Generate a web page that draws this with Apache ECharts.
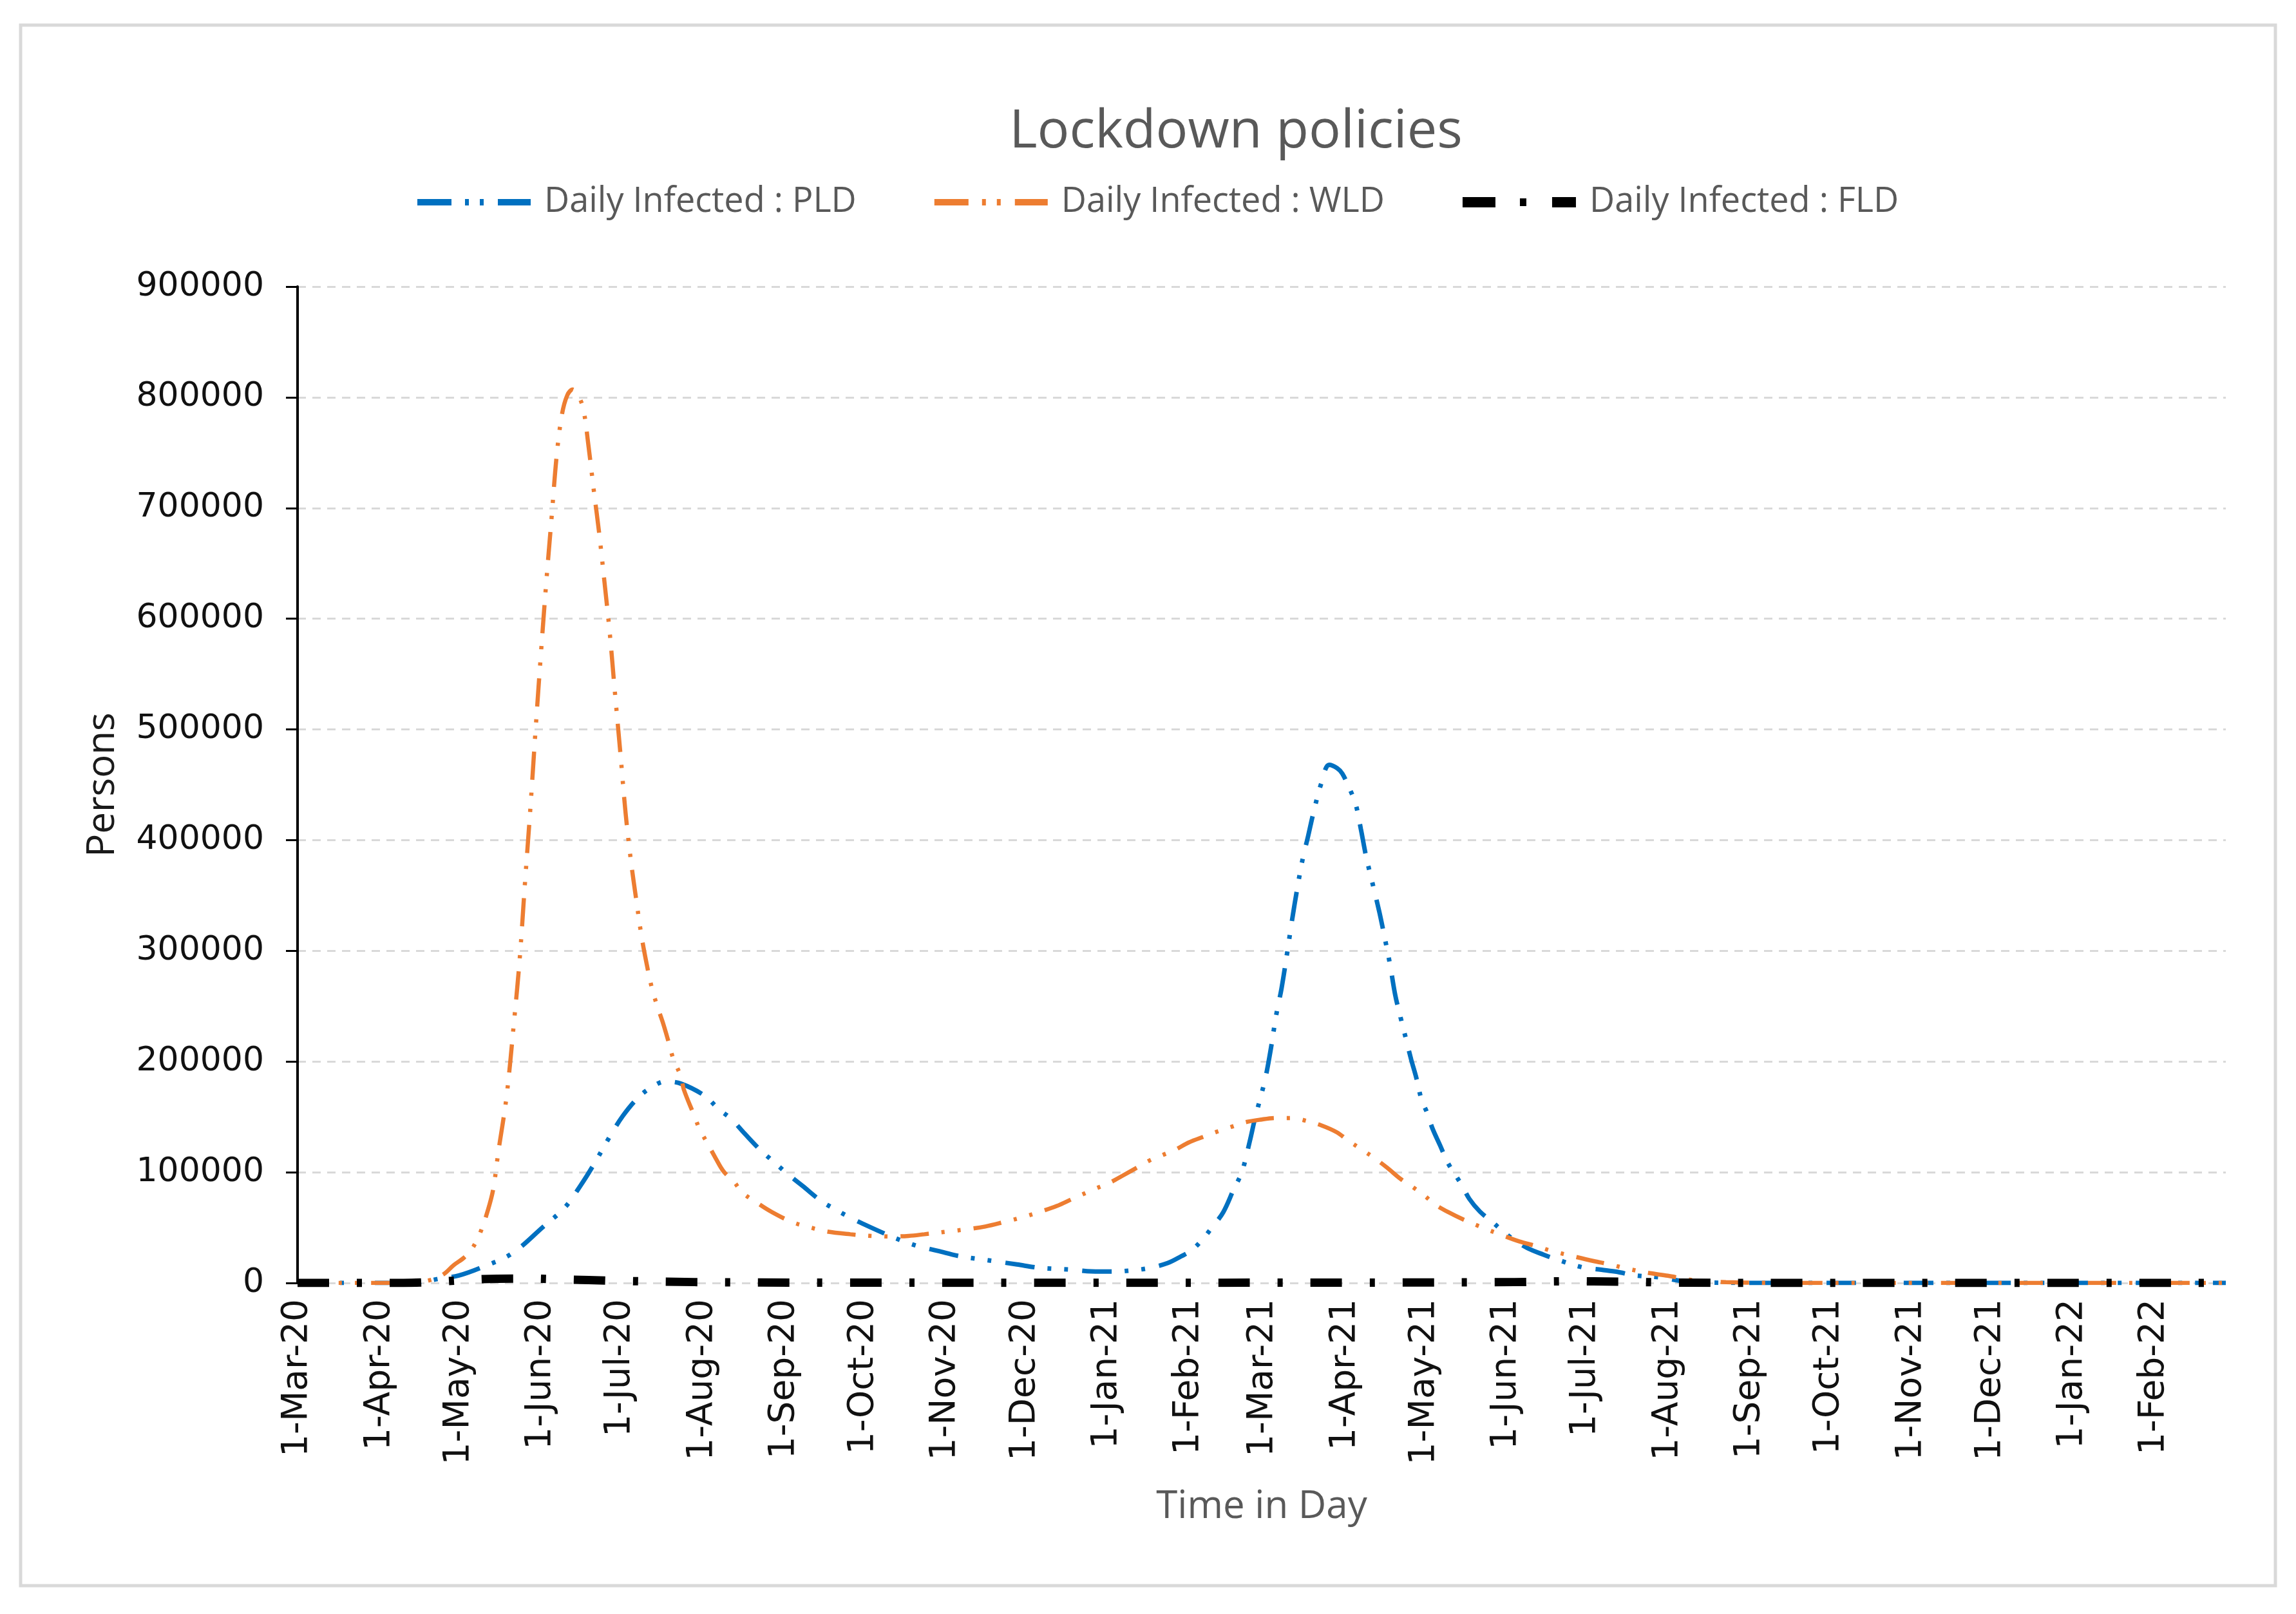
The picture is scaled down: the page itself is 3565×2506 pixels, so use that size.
<!DOCTYPE html>
<html>
<head>
<meta charset="utf-8">
<script src="https://cdn.jsdelivr.net/npm/echarts@6/dist/echarts.min.js"></script>
<style>
html,body{margin:0;padding:0;background:#fff;}
#chart{width:3565px;height:2506px;}
</style>
</head>
<body>
<div id="chart"></div>
<script>
// ---- Data (day offset from 1-Mar-20, value in persons) ----
const monthNames = ['Jan','Feb','Mar','Apr','May','Jun','Jul','Aug','Sep','Oct','Nov','Dec'];
const startYear = 2020, startMonth = 2, dayCount = 730;

const pldDays = [0,30,45,54,61,70,81,93,101,107,112,118,123,129,134,139,145,154,159,164,169,175,180,185,191,198,204,209,216,224,230,235,242,250,258,264,272,280,286,293,300,309,316,322,329,334,338,342,346,350,354,357,360,362,364,366,368,370,372,374,376,378,380,382,384,387,390,393,395,398,400,402,404,406,409,411,413,415,417,419,421,423,425,427,429,432,435,440,443,447,452,456,460,465,471,477,486,493,499,505,515,522,530,545,560,729];
const pldValues = [0,0,500,4000,6800,14500,26500,51000,68000,88000,107000,132000,151000,168000,177000,182000,180000,169000,157500,148000,135000,120000,109500,99000,87500,74000,65500,59000,51000,42500,36800,33000,29000,24300,21500,19500,16700,13800,12800,11900,10500,10300,11500,13500,18000,24000,29500,39000,51000,64000,85000,100000,128000,149000,167000,186000,212000,242000,266000,296000,328000,357000,383000,403000,424000,451000,468000,465000,460000,445000,433000,410000,385000,365000,335000,312000,288000,260000,240000,221000,202000,185000,165000,154000,140000,124000,108000,89000,76000,64500,54500,46000,38800,31500,25600,20500,14000,11900,10000,7000,5000,2200,500,100,0,0];

const wldDays = [0,35,45,50,55,59,63,66,69,72,74,76,79,82,84,86,88,90,92,94,96,98,100,102,104,106,108,110,112,114,116,118,120,122,124,126,128,130,132,134,136,138,140,142,144.5,146,150,152,155,158,161,164.5,168,174,179,187,194,200,209,217,225,231,237,246,253,260,267,275,281,287,293,301,307,312,318,322,327,332,337,343,348,353,358,364,370,376,381,387,393,397,402,407,412,417,422,426,430,435,441,447,455,462,468,474,483,490,496,502,511,518,525,531,540,555,570,729];
const wldValues = [0,0,600,2500,7500,16000,23000,31000,45000,66000,85000,120000,168000,240000,293000,362000,428000,500000,568000,632000,690000,748000,785000,802000,807000,802000,790000,756000,716000,678000,634000,588000,533000,480000,425000,382000,347000,314000,288000,266000,250000,236000,220000,203000,186000,175000,151000,139000,126000,113000,101000,91500,82000,72000,64500,55000,50000,46500,44000,42500,42000,42500,44000,46500,48500,51000,55000,60000,64500,69500,76000,84500,90500,97000,105000,110500,115500,120500,127000,132500,137000,141000,145000,147500,149000,149000,146700,142400,136000,129000,121000,113000,104000,94000,86000,79000,71000,64000,57000,51000,43500,37500,33500,29000,23700,19800,16800,13300,9000,6500,3500,1600,700,100,0,0];

const fldDays = [0,40,55,70,85,100,120,150,200,300,400,460,480,500,520,560,729];
const fldValues = [0,0,1500,3500,4000,3200,2000,800,300,200,300,800,1500,1200,400,0,0];

const yMin = 0, yMax = 900000, yStep = 100000;

// ---- Category labels (one per day) ----
const categories = [];
for (let i = 0; i < dayCount; i++) {
  const d = new Date(Date.UTC(startYear, startMonth, 1 + i));
  categories.push(d.getUTCDate() + '-' + monthNames[d.getUTCMonth()] + '-' + String(d.getUTCFullYear()).slice(2));
}
function zip(days, vals){ return days.map((d,i)=>[d, vals[i]]); }

// legend icons: dash · · dash, and heavy dash · dash
const iconDashDotDot = 'path://M0,0L0.01,0Z M0,16L0.01,16Z M0,3L53,3L53,13L0,13Z M74,3L80,3L80,13L74,13Z M97,3L103,3L103,13L97,13Z M125,3L176,3L176,13L125,13Z';
const iconHeavyDashDot = 'path://M0,0L51,0L51,16L0,16Z M89,2L99,2L99,14L89,14Z M139,0L176,0L176,16L139,16Z';

const chart = echarts.init(document.getElementById('chart'), null, {renderer:'canvas'});
const sansGray = '#595959';
const baseLine = {smooth: 0.35, symbol: 'none', showSymbol: false};

chart.setOption({
  backgroundColor: '#ffffff',
  animation: false,
  title: {
    text: 'Lockdown policies',
    left: 1914, top: 159, textAlign: 'center',
    textStyle: {fontFamily: 'Open Sans', fontSize: 83, fontWeight: 'normal', color: sansGray}
  },
  legend: {
    left: 643, top: 282,
    itemWidth: 176, itemHeight: 16, itemGap: 121,
    textStyle: {fontFamily: 'Open Sans', fontSize: 54, color: sansGray, padding: [0,0,0,16]},
    data: [
      {name: 'Daily Infected : PLD', icon: iconDashDotDot},
      {name: 'Daily Infected : WLD', icon: iconDashDotDot},
      {name: 'Daily Infected : FLD', icon: iconHeavyDashDot}
    ]
  },
  grid: {left: 462, right: 109, top: 445, bottom: 514, containLabel: false},
  xAxis: {
    type: 'category',
    data: categories,
    boundaryGap: false,
    name: 'Time in Day', nameLocation: 'middle', nameGap: 318,
    nameTextStyle: {fontFamily: 'Open Sans', fontSize: 60, color: sansGray},
    axisLine: {show: false},
    axisTick: {show: false},
    splitLine: {show: false},
    axisLabel: {
      rotate: 90, margin: 25,
      interval: (idx, val) => val.indexOf('1-') === 0,
      fontFamily: 'DejaVu Sans', fontSize: 55, color: '#111'
    }
  },
  yAxis: {
    type: 'value', min: yMin, max: yMax, interval: yStep,
    name: 'Persons', nameLocation: 'middle', nameGap: 272,
    nameTextStyle: {fontFamily: 'Open Sans', fontSize: 60, color: '#1a1a1a'},
    axisLine: {show: true, lineStyle: {color: '#000', width: 4}},
    axisTick: {show: true, length: 18, lineStyle: {color: '#000', width: 3}},
    axisLabel: {margin: 52, fontFamily: 'DejaVu Sans', fontSize: 52, color: '#111', formatter: v => String(v)},
    splitLine: {show: true, lineStyle: {color: '#d9d9d9', width: 3, type: [13, 10]}}
  },
  series: [
    Object.assign({}, baseLine, {
      name: 'Daily Infected : PLD', type: 'line', data: zip(pldDays, pldValues),
      lineStyle: {color: '#0070C0', width: 7, type: [46, 20, 6, 20, 6, 22]},
      itemStyle: {color: '#0070C0'}, z: 3
    }),
    Object.assign({}, baseLine, {
      name: 'Daily Infected : WLD', type: 'line', data: zip(wldDays, wldValues),
      lineStyle: {color: '#ED7D31', width: 6.5, type: [44, 20, 5, 20, 5, 20]},
      itemStyle: {color: '#ED7D31'}, z: 4
    }),
    Object.assign({}, baseLine, {
      name: 'Daily Infected : FLD', type: 'line', data: zip(fldDays, fldValues),
      lineStyle: {color: '#000000', width: 13, type: [49, 43, 8, 43]},
      itemStyle: {color: '#000000'}, z: 5
    })
  ],
  graphic: [{
    type: 'rect', silent: true, z: -1,
    shape: {x: 32, y: 39, width: 3501, height: 2423},
    style: {fill: 'none', stroke: '#d9d9d9', lineWidth: 5}
  }]
});
</script>
</body>
</html>
